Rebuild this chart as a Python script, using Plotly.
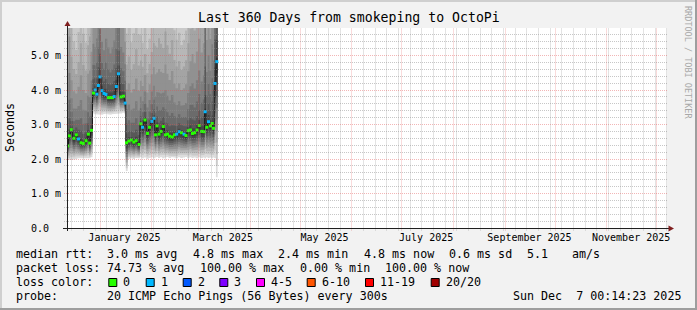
import math
import numpy as np
import pandas as pd
import plotly.graph_objects as go

# ---------------- data ----------------
START = pd.Timestamp("2024-12-12 00:14:23")
END = pd.Timestamp("2025-12-07 00:14:23")

# sample positions: days after START
sample_day = [
    0.4, 1.4, 2.6, 4.2, 5.6, 6.9, 8.4, 9.8, 11.4, 12.8, 13.6, 14.7,
    15.9, 16.9, 17.9, 18.8, 19.8, 21.0, 22.2, 23.4, 24.9, 26.1, 27.3, 28.3, 29.6, 30.9, 32.4, 33.9, 34.9,
    35.7, 37.1, 38.6, 40.1, 41.5, 43.2,
    44.3, 45.3, 46.8, 48.3, 49.5, 50.9, 52.2, 53.1, 54.0, 55.2, 56.4, 57.8, 59.1, 60.3, 61.5, 63.2,
    64.5, 65.8, 67.3, 68.7, 70.2, 71.4, 72.8, 74.1, 75.3, 76.6, 78.0, 79.3, 80.8, 82.2, 82.9, 83.9,
    84.9, 86.1, 87.1, 87.9, 88.8, 89.9,
]
median_ms = [
    2.38, 2.67, 2.85, 2.60, 2.70, 2.58, 2.47, 2.45, 2.53, 2.72, 2.46, 2.83,
    3.91, 4.00, 3.88, 4.13, 4.38, 3.98, 3.90, 3.87, 3.78, 3.78, 3.78, 3.81, 4.10, 4.47, 3.80, 3.82, 3.62,
    2.47, 2.52, 2.55, 2.49, 2.53, 2.42,
    3.02, 2.92, 3.13, 2.74, 2.92, 3.09, 3.18, 2.70, 2.96, 2.72, 2.80, 2.94, 2.70, 2.72, 2.66, 2.64,
    2.70, 2.72, 2.79, 2.76, 2.72, 2.68, 2.82, 2.84, 2.74, 2.76, 2.84, 2.97, 2.80, 2.79, 3.37, 2.92,
    3.08, 2.96, 3.03, 2.89, 4.19, 4.82,
]
loss_class = [
    0, 0, 0, 0, 0, 1, 0, 0, 0, 0, 0, 0,
    0, 1, 1, 1, 1, 1, 1, 1, 0, 0, 0, 1, 1, 1, 0, 0, 1,
    0, 0, 0, 0, 0, 0,
    0, 1, 0, 0, 0, 1, 1, 0, 0, 0, 0, 0, 0, 0, 0, 0,
    0, 1, 1, 0, 1, 0, 0, 0, 0, 0, 0, 0, 0, 0, 1, 0,
    1, 0, 0, 0, 1, 1,
]
smoke_min_ms = [
    1.97, 1.96, 1.97, 1.98, 2.00, 2.02, 2.03, 2.02, 2.03, 2.04, 2.02, 2.05,
    3.32, 3.30, 3.28, 3.30, 3.30, 3.28, 3.30, 3.32, 3.30, 3.28, 3.30, 3.31, 3.30, 3.32, 3.32, 3.34, 3.30,
    1.65, 2.00, 2.02, 2.00, 2.03, 2.02,
    2.05, 2.02, 2.04, 2.00, 2.03, 2.05, 2.02, 2.04, 2.06, 2.03, 2.05, 2.02, 2.04, 2.06, 2.03, 2.05,
    2.04, 2.02, 2.05, 2.03, 2.04, 2.06, 2.02, 2.05, 2.03, 2.04, 2.02, 2.05, 2.03, 2.04, 2.02, 2.05,
    2.03, 2.04, 2.02, 2.04, 2.03, 1.47,
]
smoke_max_ms = [
    9, 13, 8, 7.5, 7, 8, 9.5, 8, 7.5, 9, 10, 11,
    12, 11, 13, 15, 18, 12, 11, 13, 12, 11, 12, 13, 15, 18, 12, 11, 10,
    8, 8.5, 7.5, 8, 9, 8,
    7.5, 7.2, 7.8, 7.0, 7.4, 8.0, 8.5, 9.0, 8.5, 9.5, 9.0, 8.5, 10, 9, 8.5, 9.5,
    8, 7.5, 7.8, 7.2, 7.5, 8, 9, 10, 11, 10, 11, 12, 11, 12, 30, 12,
    14, 12, 16, 14, 30, 40,
]

loss_labels = ["0", "1", "2", "3", "4-5", "6-10", "11-19", "20/20"]
loss_colors = ["#26ff00", "#00b8ff", "#0059ff", "#7e00ff", "#ff00ff", "#ff5500", "#ff0000", "#a10000"]

month_label_dates = ["2025-01-15 12:00", "2025-03-15 12:00", "2025-05-15 12:00",
                     "2025-07-15 12:00", "2025-09-15 12:00", "2025-11-15 12:00"]
month_labels = ["January 2025", "March 2025", "May 2025", "July 2025", "September 2025", "November 2025"]
y_tick_vals = [0, 1, 2, 3, 4, 5]
y_tick_text = ["0.0\u00a0\u00a0", "1.0\u00a0m", "2.0\u00a0m", "3.0\u00a0m", "4.0\u00a0m", "5.0\u00a0m"]

title_text = "Last 360 Days from smokeping to OctoPi"
rtt_legend = ["median rtt:", "3.0 ms avg", "4.8 ms max", "2.4 ms min", "4.8 ms now", "0.6 ms sd", "5.1", "am/s"]
pl_legend = ["packet loss:", "74.73 % avg", "100.00 % max", "0.00 % min", "100.00 % now"]
probe_legend = ["probe:", "20 ICMP Echo Pings (56 Bytes) every 300s"]
stamp_text = "Sun Dec\u00a0\u00a07 00:14:23 2025"
side_text = "RRDTOOL / TOBI OETIKER"

# ---------------- layout geometry ----------------
W, H = 697, 310
PL, PR, PT, PB = 67, 667, 28, 228
PX_PER_MS = 34.5
Y_TOP = (PB - PT) / PX_PER_MS
MONO = "DejaVu Sans Mono"
SPAN = (END - START)


def px(x):
    return (x - PL) / (PR - PL)


def py(y):
    return (PB - y) / (PB - PT)


def t2px(t):
    return PL + (pd.Timestamp(t) - START) / SPAN * (PR - PL)


fig = go.Figure()

# ---------------- smoke ----------------
day = np.array(sample_day, dtype=float)
med = np.array(median_ms)
lo = np.array(smoke_min_ms)
hi = np.array(smoke_max_ms)
edges = np.concatenate([[0.0], (day[1:] + day[:-1]) / 2, [day[-1] + 0.5]])
edge_t = [START + pd.Timedelta(days=float(e)) for e in edges]
left, right = edge_t[:-1], edge_t[1:]
n = len(day)
K = 10
for i in range(K):
    frac = (K - i) / K
    top = med + (hi - med) * frac ** 2.5
    bot = med - (med - lo) * frac
    xs, ys = [], []
    for k in range(n):
        xs += [left[k], right[k]]
        ys += [top[k], top[k]]
    for k in reversed(range(n)):
        xs += [right[k], left[k]]
        ys += [bot[k], bot[k]]
    g = 221 - 19 * i
    fig.add_trace(go.Scatter(x=xs, y=ys, mode="lines", fill="toself",
                             fillcolor=f"rgb({g},{g},{g})", line=dict(width=0),
                             hoverinfo="skip", showlegend=False))

# median dark line
mx, my = [], []
for k in range(n):
    mx += [left[k], right[k]]
    my += [med[k], med[k]]
fig.add_trace(go.Scatter(x=mx, y=my, mode="lines", line=dict(color="#1c1c1c", width=1),
                         hoverinfo="skip", showlegend=False))

# loss coloured median points
sample_t = [START + pd.Timedelta(days=float(d)) for d in day]
fig.add_trace(go.Scatter(x=sample_t, y=med, mode="markers",
                         marker=dict(symbol="square", size=3,
                                     color=[loss_colors[c] for c in loss_class],
                                     line=dict(width=0)),
                         hoverinfo="skip", showlegend=False))

# ---------------- grid (drawn above the smoke, like rrdtool) ----------------
shapes = []
GRID = "rgba(143,143,143,0.5)"
MGRID = "rgba(225,80,80,0.42)"
month_starts = pd.date_range("2025-01-01", END, freq="MS")
month_set = set(month_starts)
weeks = pd.date_range("2024-12-15", END, freq="7D")
for w in weeks:
    if w in month_set:
        continue
    c = math.floor(t2px(w)) + 0.5
    shapes.append(dict(type="line", xref="paper", yref="paper", x0=px(c), x1=px(c),
                       y0=py(230.5), y1=py(PT), line=dict(color=GRID, width=1, dash="1px,1px"),
                       layer="above"))
for m in month_starts:
    c = math.floor(t2px(m)) + 0.5
    shapes.append(dict(type="line", xref="paper", yref="paper", x0=px(c), x1=px(c),
                       y0=py(230.5), y1=py(PT), line=dict(color=MGRID, width=1, dash="1px,1px"),
                       layer="above"))
minor_vals = [round(0.2 * j, 1) for j in range(1, 30)]
for v in minor_vals:
    if v >= Y_TOP:
        continue
    major = abs(v - round(v)) < 1e-9
    r = math.floor(PB - v * PX_PER_MS) + 0.5
    shapes.append(dict(type="line", xref="paper", yref="paper", x0=px(64), x1=px(PR),
                       y0=py(r), y1=py(r),
                       line=dict(color=MGRID if major else GRID, width=1, dash="1px,1px"),
                       layer="above"))

# axes + arrows
AXIS = "#1f1f1f"
ARROW = "#801f1f"
shapes.append(dict(type="line", xref="paper", yref="paper", x0=px(63), x1=px(669),
                   y0=py(228.5), y1=py(228.5), line=dict(color=AXIS, width=1), layer="above"))
shapes.append(dict(type="line", xref="paper", yref="paper", x0=px(67.5), x1=px(67.5),
                   y0=py(231), y1=py(25), line=dict(color=AXIS, width=1), layer="above"))
shapes.append(dict(type="path", xref="paper", yref="paper",
                   path=f"M{px(64.5)},{py(26)} L{px(70.5)},{py(26)} L{px(67.5)},{py(21)} Z",
                   fillcolor=ARROW, line=dict(width=0), layer="above"))
shapes.append(dict(type="path", xref="paper", yref="paper",
                   path=f"M{px(668.5)},{py(225.5)} L{px(668.5)},{py(231.5)} L{px(674)},{py(228.5)} Z",
                   fillcolor=ARROW, line=dict(width=0), layer="above"))

# frame (3D shade)
shapes.append(dict(type="rect", xref="paper", yref="paper", x0=px(0), x1=px(W), y0=py(0), y1=py(2),
                   fillcolor="#cfcfcf", line=dict(width=0), layer="above"))
shapes.append(dict(type="rect", xref="paper", yref="paper", x0=px(0), x1=px(2), y0=py(0), y1=py(H),
                   fillcolor="#cfcfcf", line=dict(width=0), layer="above"))
shapes.append(dict(type="rect", xref="paper", yref="paper", x0=px(0), x1=px(W), y0=py(H - 2), y1=py(H),
                   fillcolor="#9e9e9e", line=dict(width=0), layer="above"))
shapes.append(dict(type="rect", xref="paper", yref="paper", x0=px(W - 2), x1=px(W), y0=py(0), y1=py(H),
                   fillcolor="#9e9e9e", line=dict(width=0), layer="above"))

# ---------------- texts ----------------
ann = []


def text(x, y, s, size=11.66, anchor="left", color="#000000", angle=0, vanchor="middle"):
    ann.append(dict(x=px(x), y=py(y), xref="paper", yref="paper", text=s, showarrow=False,
                    xanchor=anchor, yanchor=vanchor, textangle=angle, borderpad=0, borderwidth=0,
                    font=dict(family=MONO, size=size, color=color)))


# y-axis labels placed on the y scale
for val, lab in zip(y_tick_vals, y_tick_text):
    ann.append(dict(x=px(60.5), xref="paper", y=val, yref="y", text=lab, showarrow=False,
                    xanchor="right", yanchor="middle", borderpad=0, borderwidth=0,
                    font=dict(family=MONO, size=10, color="#000000")))

text(348.5, 18, title_text, size=13.2, anchor="center")
text(10, 128, "Seconds", size=11.66, anchor="center", angle=-90)
text(688, 62, side_text, size=8.5, anchor="center", angle=90, color="#a8a8a8")

row1_x = [16, 107.3, 192.8, 278.3, 363.8, 449.3, 526.5, 571.7]
for x, s in zip(row1_x, rtt_legend):
    text(x, 254.3, s)
row2_x = [16, 107.3, 200.0, 299.7, 385.4]
for x, s in zip(row2_x, pl_legend):
    text(x, 268.3, s)
text(16, 282.3, "loss color:")
box_x = [108.3, 145.7, 182.7, 219.3, 256.0, 306.7, 365.0, 430.7]
for bx, lab, col in zip(box_x, loss_labels, loss_colors):
    shapes.append(dict(type="rect", xref="paper", yref="paper", x0=px(bx + 0.5), x1=px(bx + 8.5),
                       y0=py(278.5), y1=py(286.5), fillcolor=col,
                       line=dict(color="#000000", width=1), layer="above"))
    text(bx + 15, 282.3, lab)
text(16, 296, probe_legend[0])
text(107.3, 296, probe_legend[1])
text(513.3, 296, stamp_text)

fig.update_layout(
    width=W, height=H,
    margin=dict(l=PL, r=W - PR, t=PT, b=H - PB, pad=0),
    paper_bgcolor="#f2f2f2", plot_bgcolor="#ffffff",
    showlegend=False,
    font=dict(family=MONO, size=10, color="#000000"),
    shapes=shapes, annotations=ann,
)
fig.update_xaxes(type="date", range=[START, END], showgrid=False, zeroline=False, showline=False,
                 tickvals=month_label_dates, ticktext=month_labels, ticks="", tickangle=0,
                 tickfont=dict(family=MONO, size=10, color="#000000"), ticklabelstandoff=2,
                 fixedrange=True)
fig.update_yaxes(range=[0, Y_TOP], showgrid=False, zeroline=False, showline=False,
                 showticklabels=False, ticks="", fixedrange=True)

fig.write_html("out.html", config={"displayModeBar": False, "staticPlot": True})
